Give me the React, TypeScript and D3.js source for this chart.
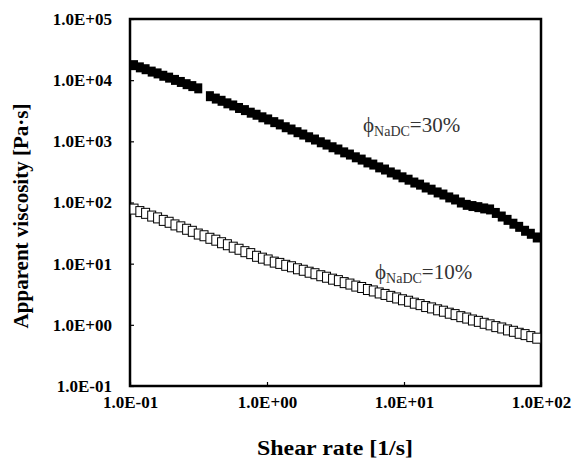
import * as d3 from "d3";
import React, {useEffect, useRef} from "react";

// shear rate sweep [1/s]
const shearRate10 = [0.107, 0.118, 0.130, 0.144, 0.159, 0.175, 0.193, 0.213, 0.235, 0.259,
    0.285, 0.315, 0.347, 0.383, 0.423, 0.466, 0.514, 0.567, 0.625, 0.690,
    0.761, 0.839, 0.926, 1.02, 1.13, 1.24, 1.37, 1.51, 1.67, 1.84,
    2.03, 2.24, 2.47, 2.72, 3.01, 3.32, 3.66, 4.03, 4.45, 4.91,
    5.41, 5.97, 6.59, 7.27, 8.01, 8.84, 9.75, 10.8, 11.9, 13.1,
    14.4, 15.9, 17.6, 19.4, 21.4, 23.6, 26.0, 28.7, 31.6, 34.9,
    38.5, 42.5, 46.8, 51.7, 57.0, 62.9, 69.3, 76.5, 84.3, 93.1];
const viscosity10 = [78.0, 71.0, 66.5, 60.0, 56.0, 51.0, 47.5, 43.0, 40.0, 36.5,
    33.8, 30.5, 28.6, 26.0, 24.2, 22.0, 20.4, 18.6, 17.2, 15.7,
    14.6, 13.2, 12.3, 11.5, 10.6, 10.1, 9.40, 8.90, 8.25, 7.80,
    7.25, 6.85, 6.35, 6.00, 5.58, 5.28, 4.90, 4.64, 4.30, 4.08,
    3.78, 3.58, 3.32, 3.14, 2.92, 2.75, 2.57, 2.43, 2.26, 2.14,
    1.99, 1.89, 1.76, 1.67, 1.55, 1.47, 1.36, 1.29, 1.20, 1.14,
    1.06, 1.00, 0.935, 0.888, 0.826, 0.784, 0.728, 0.692, 0.642, 0.605];

const shearRate30 = [0.107, 0.118, 0.130, 0.144, 0.159, 0.175, 0.193, 0.213, 0.235, 0.259,
    0.285, 0.315, 0.383, 0.423, 0.466, 0.514, 0.567, 0.625, 0.690,
    0.761, 0.839, 0.926, 1.02, 1.13, 1.24, 1.37, 1.51, 1.67, 1.84,
    2.03, 2.24, 2.47, 2.72, 3.01, 3.32, 3.66, 4.03, 4.45, 4.91,
    5.41, 5.97, 6.59, 7.27, 8.01, 8.84, 9.75, 10.8, 11.9, 13.1,
    14.4, 15.9, 17.6, 19.4, 21.4, 23.6, 26.0, 28.7, 31.6, 34.9,
    38.5, 42.5, 46.8, 51.7, 57.0, 62.9, 69.3, 76.5, 84.3, 93.1];
const viscosity30 = [17600, 16200, 15100, 13800, 12900, 11800, 11000, 10100, 9350, 8600,
    8000, 7350, 5470, 5000, 4600, 4180, 3860, 3510, 3240,
    2940, 2720, 2470, 2280, 2060, 1890, 1700, 1560, 1410, 1290,
    1165, 1070, 965, 885, 800, 735, 660, 608, 548, 503,
    452, 417, 375, 346, 310, 286, 258, 236, 212, 196,
    176, 162, 146, 135, 121, 112, 100, 91.5, 87.5, 84.0,
    80.0, 77.0, 67.5, 59.0, 52.0, 45.0, 40.0, 34.5, 30.8, 26.8];

const xTicks = [0.1, 1, 10, 100];
const xTickLabels = ["1.0E-01", "1.0E+00", "1.0E+01", "1.0E+02"];
const yTicks = [0.1, 1, 10, 100, 1000, 10000, 100000];
const yTickLabels = ["1.0E-01", "1.0E+00", "1.0E+01", "1.0E+02", "1.0E+03", "1.0E+04", "1.0E+05"];

const FONT = "'Liberation Serif', 'Times New Roman', serif";

const App = () => {
    const ref = useRef(null);
    const width = 577, height = 459;
    const margin = {left: 130, top: 19, right: 36, bottom: 73};

    useEffect(() => {
        const svg = d3.select(ref.current);
        svg.selectAll("*").remove();

        const x = d3.scaleLog().domain([0.1, 100]).range([margin.left, width - margin.right]);
        const y = d3.scaleLog().domain([0.1, 100000]).range([height - margin.bottom, margin.top]);
        const bottom = height - margin.bottom;

        // inward ticks, labels outside
        const xAxis = svg.append("g")
            .attr("transform", `translate(0,${bottom})`)
            .call(d3.axisBottom(x).tickValues(xTicks).tickFormat((d, i) => xTickLabels[i])
                .tickSizeInner(-4).tickSizeOuter(0).tickPadding(10));
        const yAxis = svg.append("g")
            .attr("transform", `translate(${margin.left},0)`)
            .call(d3.axisLeft(y).tickValues(yTicks).tickFormat((d, i) => yTickLabels[i])
                .tickSizeInner(-4).tickSizeOuter(0).tickPadding(18));
        [xAxis, yAxis].forEach(g => {
            g.select(".domain").remove();
            g.selectAll("line").attr("stroke", "black").attr("stroke-width", 1.2);
            g.selectAll("text")
                .attr("fill", "black")
                .attr("font-family", FONT)
                .attr("font-weight", "bold")
                .attr("font-size", 17);
        });

        // frame
        svg.append("rect")
            .attr("x", margin.left).attr("y", margin.top)
            .attr("width", width - margin.left - margin.right)
            .attr("height", bottom - margin.top)
            .attr("fill", "none").attr("stroke", "black").attr("stroke-width", 2.5);

        const sw = 8, sh = 10;
        // 10 % : open squares
        svg.append("g").selectAll("rect")
            .data(shearRate10.map((s, i) => [s, viscosity10[i]]))
            .join("rect")
            .attr("x", d => x(d[0]) - sw / 2).attr("y", d => y(d[1]) - sh / 2)
            .attr("width", sw).attr("height", sh)
            .attr("fill", "white").attr("stroke", "black").attr("stroke-width", 1);
        // 30 % : filled squares
        svg.append("g").selectAll("rect")
            .data(shearRate30.map((s, i) => [s, viscosity30[i]]))
            .join("rect")
            .attr("x", d => x(d[0]) - sw / 2).attr("y", d => y(d[1]) - sh / 2)
            .attr("width", sw).attr("height", sh)
            .attr("fill", "black");

        // annotations
        const note = (px, py, val) => {
            const t = svg.append("text").attr("x", px).attr("y", py)
                .attr("font-family", FONT).attr("fill", "#333").attr("font-size", 21);
            t.append("tspan").text("ϕ");
            t.append("tspan").attr("font-size", 14).attr("dy", 4).text("NaDC");
            t.append("tspan").attr("dy", -4).text(val);
        };
        note(363, 132, "=30%");
        note(375, 279, "=10%");

        // axis titles
        svg.append("text")
            .attr("x", 335).attr("y", 455)
            .attr("text-anchor", "middle")
            .attr("font-family", FONT).attr("font-weight", "bold").attr("font-size", 20)
            .attr("textLength", 156).attr("lengthAdjust", "spacingAndGlyphs")
            .text("Shear rate [1/s]");
        svg.append("text")
            .attr("transform", "rotate(-90)")
            .attr("x", -216).attr("y", 28)
            .attr("text-anchor", "middle")
            .attr("font-family", FONT).attr("font-weight", "bold").attr("font-size", 21)
            .text("Apparent viscosity [Pa·s]");
    }, []);

    return (
        <svg ref={ref} width={width} height={height}
             style={{position: "absolute", left: 0, top: 0, background: "white"}}/>
    );
};

export default App;
